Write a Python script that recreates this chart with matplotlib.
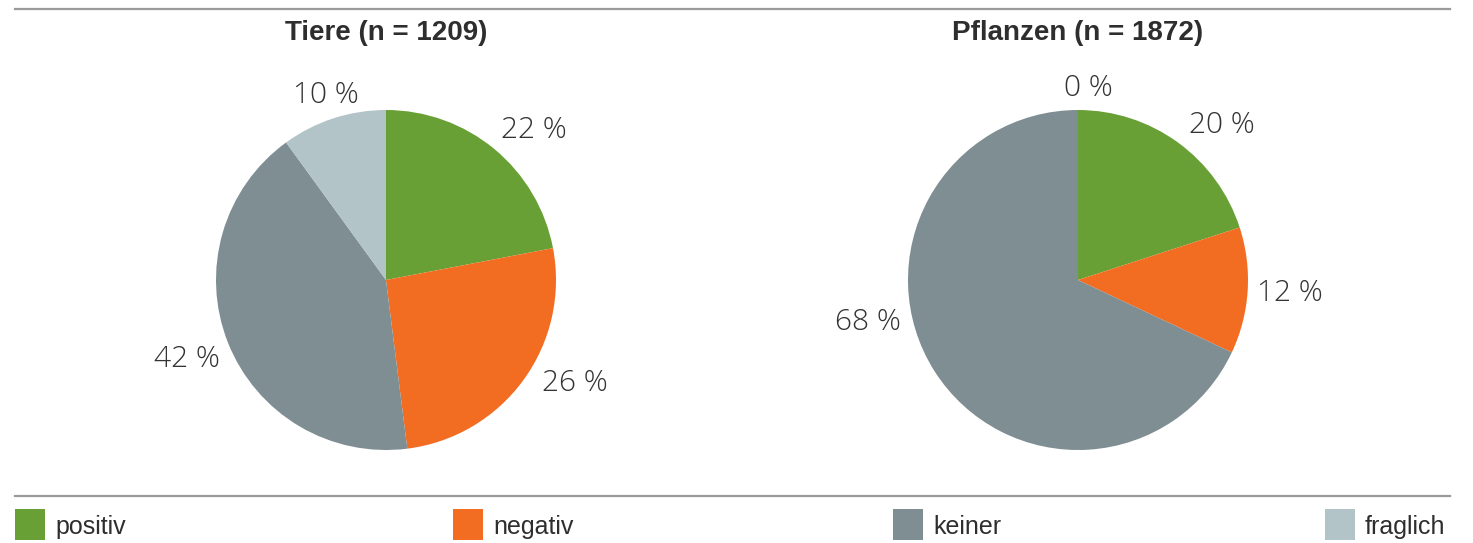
import numpy as np
import matplotlib
matplotlib.use("Agg")
import matplotlib.pyplot as plt
from matplotlib.patches import Rectangle
from matplotlib.lines import Line2D

categories = ["positiv", "negativ", "keiner", "fraglich"]
colors = ["#69a035", "#f26c22", "#7f8e93", "#b2c4c7"]

titles = ["Tiere (n = 1209)", "Pflanzen (n = 1872)"]
tiere = [22, 26, 42, 10]
pflanzen = [20, 12, 68, 0]
series = [tiere, pflanzen]

# label placement: radial distance and angular nudge (degrees) per wedge
label_dist = [[1.24, 1.265, 1.26, 1.14], [1.245, 1.25, 1.26, 1.13]]
label_nudge = [[-5, 7.4, 0, 0], [-7, 0, -21, -3]]

W, H = 1473, 543
fig = plt.figure(figsize=(W / 100, H / 100), dpi=100)

label_font = ["Open Sans", "DejaVu Sans"]
title_font = ["Liberation Sans Narrow", "Liberation Sans", "DejaVu Sans"]
text_col = "#2e2e2e"

centers = [(386, 280), (1078, 280)]
R = 170

for k, (vals, (cx, cy)) in enumerate(zip(series, centers)):
    ax = fig.add_axes([(cx - R) / W, (H - cy - R) / H, 2 * R / W, 2 * R / H])
    wedges, _ = ax.pie(vals, colors=colors, startangle=90, counterclock=False,
                       radius=1.0, wedgeprops=dict(linewidth=0))
    ax.set_xlim(-1, 1)
    ax.set_ylim(-1, 1)
    ax.axis("off")
    for i, (w, v) in enumerate(zip(wedges, vals)):
        ang = np.deg2rad((w.theta1 + w.theta2) / 2 + label_nudge[k][i])
        d = label_dist[k][i]
        ax.text(d * np.cos(ang), d * np.sin(ang), f"{v} %", ha="center", va="center",
                fontsize=21.5, color="#333333", family=label_font, fontweight="light")
    fig.text(cx / W, 1 - 33 / H, titles[k], ha="center", va="center",
             fontsize=20, fontweight="bold", color=text_col, family=title_font)

# horizontal rules
for yy in (9, 496):
    fig.add_artist(Line2D([15 / W, 1450 / W], [1 - yy / H, 1 - yy / H],
                          color="#9a9a9a", linewidth=1.6, transform=fig.transFigure))

# legend row
legend_x = [15, 453, 893, 1325]
for x, c, name in zip(legend_x, colors, categories):
    fig.add_artist(Rectangle((x / W, 1 - 540 / H), 30 / W, 31 / H, color=c,
                             transform=fig.transFigure, linewidth=0))
    fig.text((x + 40) / W, 1 - 527 / H, name, ha="left", va="center",
             fontsize=18, color=text_col, family=title_font)

fig.savefig("out.png", dpi=100, facecolor="white")
